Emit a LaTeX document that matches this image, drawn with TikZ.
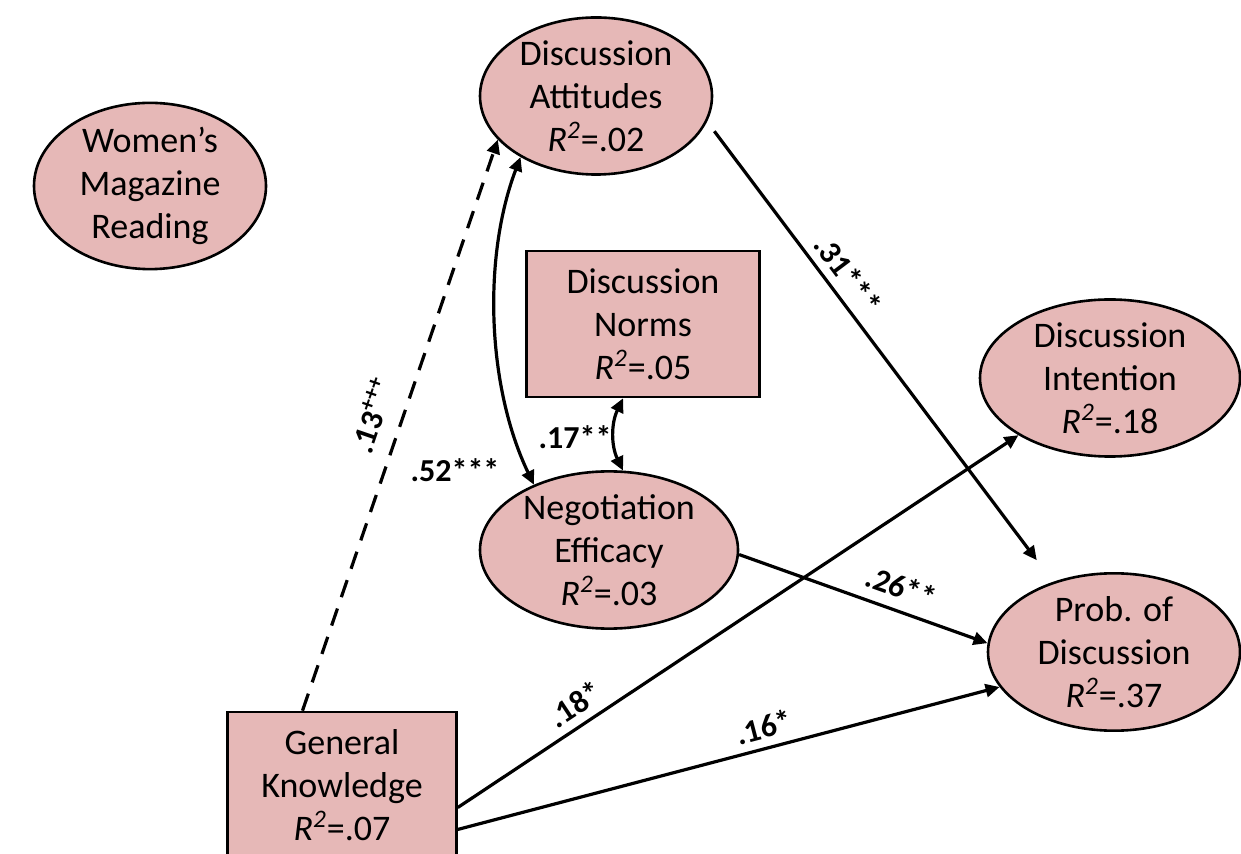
\documentclass[tikz,border=0pt]{standalone}
\usepackage{fontspec}
\setmainfont{Carlito}
\usetikzlibrary{shapes.geometric,arrows.meta}
\definecolor{nodefill}{RGB}{230,184,183}
\newcommand\Rsq[1]{\textit{R}\textsuperscript{\textit{2}}=#1}
\begin{document}
\begin{tikzpicture}[x=0.5pt,y=-0.5pt,
  base/.style={draw=black, line width=1.3pt, fill=nodefill, align=center,
    inner sep=0pt, font=\fontsize{18}{21.5}\selectfont},
  oval/.style={base, ellipse},
  box/.style={base, rectangle},
  tip/.tip={Triangle[length=7pt,width=6.5pt]},
  arr/.style={line width=1.6pt, -tip},
  dbl/.style={line width=1.6pt, tip-tip},
  lab/.style={font=\fontsize{16}{19}\selectfont\bfseries, inner sep=2pt}
]
\useasboundingbox (0,0) rectangle (1241,854);
\clip (0,0) rectangle (1241,854);

% variables
\node[oval, minimum width=116pt, minimum height=62pt] (wm) at (150,186)
  {Women's\\Magazine\\Reading};
\node[oval, minimum width=116pt, minimum height=74pt] (da) at (596,96)
  {Discussion\\Attitudes\\\Rsq{.02}};
\node[box, minimum width=116.5pt, minimum height=73pt] (dn) at (643,324)
  {Discussion\\Norms\\\Rsq{.05}};
\node[oval, minimum width=130pt, minimum height=73.5pt] (di) at (1110,378)
  {Discussion\\Intention\\\Rsq{.18}};
\node[oval, minimum width=129pt, minimum height=73pt] (ne) at (609,550)
  {Negotiation\\Efficacy\\\Rsq{.03}};
\node[oval, minimum width=126pt, minimum height=73pt] (pod) at (1114,652)
  {Prob. of\\Discussion\\\Rsq{.37}};
\node[box, minimum width=114.5pt, minimum height=73pt] (gk) at (342,785)
  {General\\Knowledge\\\Rsq{.07}};

% paths
\draw[arr, dash pattern=on 9pt off 6pt] (gk.118) --
  node[lab, sloped, above=6pt, pos=0.5] {.13\textsuperscript{+++}} (da.204);
\draw[dbl] (da.219) .. controls +(-38,100) and +(-47,-98) .. (ne.139);
\draw[dbl] (dn.255) .. controls +(-12,25) and +(-12,-25) .. (ne.80);
\node[lab] (l52) at (455,470) {.52***};
\node[lab] (l17) at (575,437) {.17**};
\draw[arr, shorten <=6pt, shorten >=13.5pt] (da.-13) --
  node[lab, sloped, above=2pt, pos=0.36] {.31***} (pod.131);
\draw[arr] (ne.-2) --
  node[lab, sloped, above=3.5pt, pos=0.62] {.26**} (pod.176);
\draw[arr] (gk.-11) --
  node[lab, sloped, above=2pt, pos=0.23] {.18*} (di.212);
\draw[arr] (gk.-21.5) --
  node[lab, sloped, above=2pt, pos=0.575] {.16*} (pod.197);
\end{tikzpicture}
\end{document}
